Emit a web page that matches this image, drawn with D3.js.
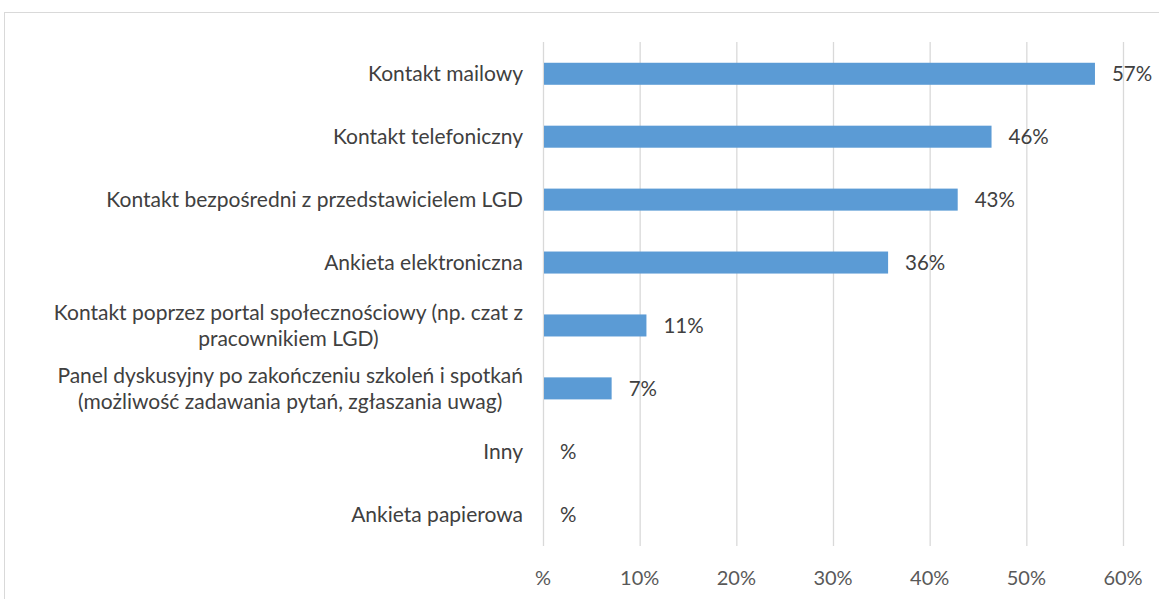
<!DOCTYPE html>
<html>
<head>
<meta charset="utf-8">
<script src="https://cdn.jsdelivr.net/npm/d3@7"></script>
<style>
  body { margin: 0; background: #fff; }
  svg { display: block; font-family: Lato, "Open Sans", sans-serif; }
</style>
</head>
<body>
<div id="chart"></div>
<script>
// categories top to bottom
const categories = [
  ["Kontakt mailowy"],
  ["Kontakt telefoniczny"],
  ["Kontakt bezpośredni z przedstawicielem LGD"],
  ["Ankieta elektroniczna"],
  ["Kontakt poprzez portal społecznościowy (np. czat z", "pracownikiem LGD)"],
  ["Panel dyskusyjny po zakończeniu szkoleń i spotkań", "(możliwość zadawania pytań, zgłaszania uwag)"],
  ["Inny"],
  ["Ankieta papierowa"]
];
const values = [57.1, 46.4, 42.9, 35.7, 10.7, 7.1, 0, 0];
const ticks = [0, 10, 20, 30, 40, 50, 60];

const W = 1159, H = 599;
const margin = {top: 42, right: 36, bottom: 53, left: 543};

const pct = v => (Math.round(v) === 0 ? "" : Math.round(v)) + "%";

const svg = d3.select("#chart").append("svg")
  .attr("width", W)
  .attr("height", H);

// outer frame
svg.append("rect")
  .attr("x", 4.5).attr("y", 12.5)
  .attr("width", W + 10).attr("height", H)
  .attr("fill", "none")
  .attr("stroke", "#d9d9d9");

const x = d3.scaleLinear()
  .domain([0, 60])
  .range([margin.left, W - margin.right]);

const y = d3.scaleBand()
  .domain(d3.range(categories.length))
  .range([margin.top, H - margin.bottom])
  .paddingInner(0.65)
  .paddingOuter(0.33);

// gridlines
svg.append("g")
  .selectAll("line")
  .data(ticks)
  .join("line")
  .attr("x1", d => x(d) + 0.5).attr("x2", d => x(d) + 0.5)
  .attr("y1", margin.top).attr("y2", H - margin.bottom)
  .attr("stroke", "#d9d9d9")
  .attr("stroke-width", 1.3);

// x tick labels
svg.append("g")
  .selectAll("text")
  .data(ticks)
  .join("text")
  .attr("x", d => x(d))
  .attr("y", 585)
  .attr("text-anchor", "middle")
  .attr("font-size", 20)
  .attr("fill", "#595959")
  .text(d => pct(d));

// bars
svg.append("g")
  .selectAll("rect")
  .data(values)
  .join("rect")
  .attr("x", x(0) + 1)
  .attr("y", (d, i) => y(i))
  .attr("width", d => Math.max(0, x(d) - x(0) - 1))
  .attr("height", y.bandwidth())
  .attr("fill", "#5b9bd5");

// value labels
svg.append("g")
  .selectAll("text")
  .data(values)
  .join("text")
  .attr("x", d => x(d) + 17)
  .attr("y", (d, i) => y(i) + y.bandwidth() / 2)
  .attr("dy", "0.36em")
  .attr("font-size", 20.5)
  .attr("fill", "#404040")
  .text(d => pct(d));

// category labels, block right-aligned, lines centred inside block
const labelRight = 523;
const lineH = 25.5;
const catG = svg.append("g");
categories.forEach((lines, i) => {
  const cy = y(i) + y.bandwidth() / 2;
  const t = catG.append("text")
    .attr("font-size", 21)
    .attr("fill", "#404040")
    .attr("text-anchor", "middle");
  const spans = lines.map((s, j) => t.append("tspan")
    .attr("y", cy + (j - (lines.length - 1) / 2) * lineH)
    .attr("dy", "0.36em")
    .text(s));
  const wMax = d3.max(spans, s => s.node().getComputedTextLength());
  spans.forEach(s => s.attr("x", labelRight - wMax / 2));
});
</script>
</body>
</html>
